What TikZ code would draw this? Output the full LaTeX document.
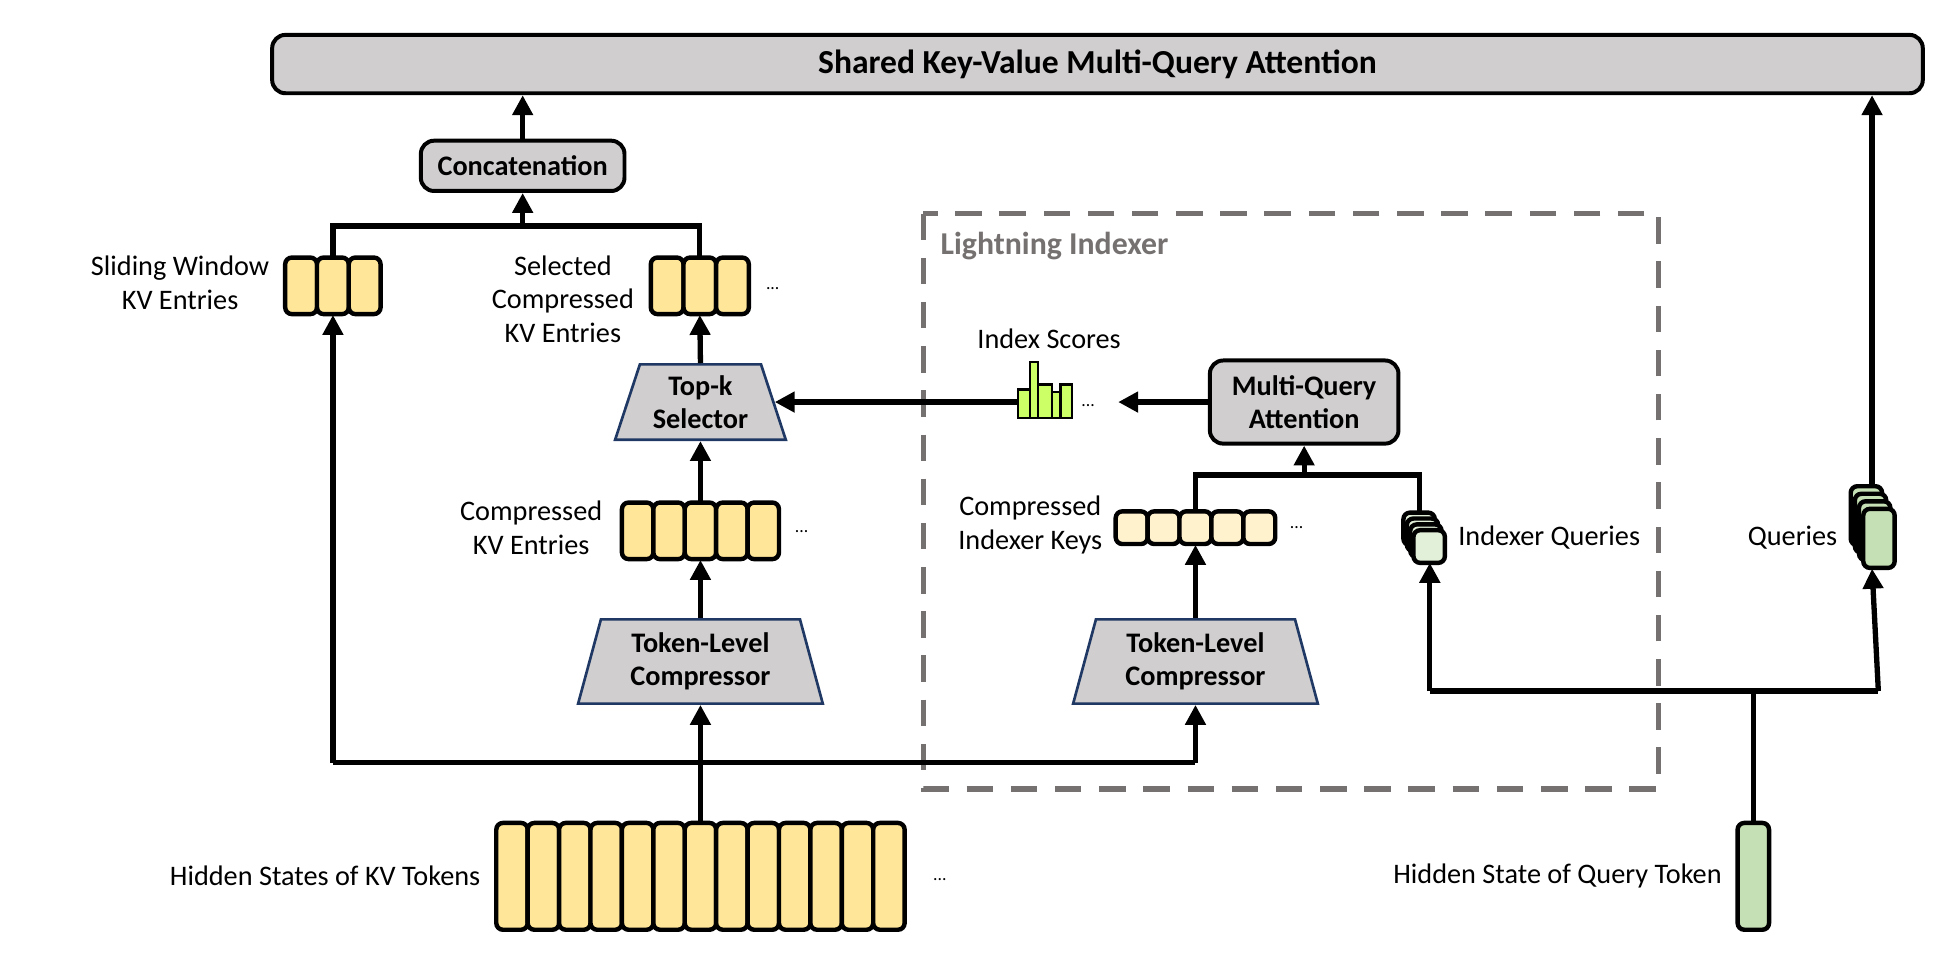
\documentclass[tikz,border=0pt]{standalone}
\usepackage{fontspec}
\setmainfont{Carlito}
\usetikzlibrary{arrows.meta,shapes.geometric}
\definecolor{boxgray}{HTML}{D0CECE}
\definecolor{kvy}{HTML}{FFE699}
\definecolor{kvl}{HTML}{FFF2CC}
\definecolor{qg}{HTML}{C5E0B4}
\definecolor{qgl}{HTML}{E2F0D9}
\definecolor{score}{HTML}{CCFF66}
\definecolor{navy}{HTML}{1F3864}
\definecolor{dgray}{HTML}{767171}
\tikzset{
  lbl/.style={font=\fontsize{6.4pt}{7.6pt}\selectfont, align=center, inner sep=0pt},
  bbox/.style={draw, line width=0.9pt, fill=boxgray, rounded corners=3pt, font=\fontsize{6.4pt}{7.6pt}\selectfont\bfseries, align=center},
  trap/.style={draw=navy, line width=0.6pt, fill=boxgray, trapezium, trapezium stretches=true, font=\fontsize{6.4pt}{7.6pt}\selectfont\bfseries, align=center, inner sep=0pt},
  grp/.style={inner sep=0pt, draw=none},
  cell/.style={draw, line width=1pt, rounded corners=1.5pt},
  conn/.style={line width=1.2pt},
  arr/.style={line width=1.2pt, -{Triangle[length=4.5pt,width=4.5pt]}},
  dots/.style={font=\fontsize{4pt}{4pt}\selectfont, inner sep=0pt}
}
\begin{document}
\begin{tikzpicture}[x=0.01cm,y=-0.01cm]
\useasboundingbox (0,0) rectangle (1560,764);
% title bar
\node[bbox, minimum width=13.13cm, minimum height=0.42cm, font=\fontsize{7.6pt}{9pt}\selectfont\bfseries] (mqa) at (873.5,51) {Shared Key-Value Multi-Query Attention};
\node[bbox, minimum width=1.62cm, minimum height=0.40cm] (concat) at (416,132) {Concatenation};
% lightning indexer dashed box
\draw[dgray, line width=1.3pt, dash pattern=on 6pt off 4pt] (735,170) rectangle (1320,628);
\node[anchor=west, text=dgray, font=\fontsize{7.2pt}{8pt}\selectfont\bfseries, inner sep=0pt] (li) at (748,196) {Lightning Indexer};
% groups
\node[grp, minimum width=0.76cm, minimum height=0.45cm] (sw) at (265,227.5) {};
\foreach \i in {0,1,2} \draw[cell, fill=kvy] (227+\i*25.3,205) rectangle ++(25.3,45);
\node[lbl, anchor=east] (swl) at (215,225) {Sliding Window\\KV Entries};
\node[grp, minimum width=0.78cm, minimum height=0.45cm] (sel) at (557,227.5) {};
\foreach \i in {0,1,2} \draw[cell, fill=kvy] (518+\i*26,205) rectangle ++(26,45);
\node[dots] (seld) at (615,230) {...};
\node[lbl] (sell) at (448,238) {Selected\\Compressed\\KV Entries};
\node[trap, minimum width=1.36cm, minimum height=0.60cm, trapezium angle=70] (topk) at (557.5,320) {Top-k\\Selector};
\node[grp, minimum width=1.25cm, minimum height=0.45cm] (ckv) at (557.5,422.5) {};
\foreach \i in {0,...,4} \draw[cell, fill=kvy] (495+\i*25,400) rectangle ++(25,45);
\node[dots] (ckvd) at (638,423) {...};
\node[lbl, anchor=east] (ckvl) at (480,420) {Compressed\\KV Entries};
\node[trap, minimum width=1.95cm, minimum height=0.67cm, trapezium angle=74.5] (tc1) at (557.5,526.5) {Token-Level\\Compressor};
\node[grp, minimum width=3.25cm, minimum height=0.85cm] (hs) at (557.5,697.5) {};
\foreach \i in {0,...,12} \draw[cell, fill=kvy] (395+\i*25,655) rectangle ++(25,85);
\node[dots] (hsd) at (748,700) {...};
\node[lbl, anchor=east] (hsl) at (383,697) {Hidden States of KV Tokens};
% indexer side
\node[trap, minimum width=1.95cm, minimum height=0.67cm, trapezium angle=74.5] (tc2) at (951.5,526.5) {Token-Level\\Compressor};
\node[grp, minimum width=1.27cm, minimum height=0.26cm] (cik) at (951.5,420) {};
\foreach \i in {0,...,4} \draw[cell, fill=kvl] (888+\i*25.4,407) rectangle ++(25.4,26);
\node[dots] (cikd) at (1032,420) {...};
\node[lbl, anchor=east] (cikl) at (878,418) {Compressed\\Indexer Keys};
\node[bbox, minimum width=1.50cm, minimum height=0.60cm] (mqai) at (1038,320) {Multi-Query\\Attention};
% index scores
\node[grp, minimum width=0.43cm, minimum height=0.45cm] (scores) at (831.5,310.5) {};
\draw[line width=0.5pt, fill=score] (810,310) rectangle (820,333) (820,288) rectangle (826,333) (826,306) rectangle (837,333) (837,312) rectangle (844,333) (844,306) rectangle (853,333);
\node[dots] (scd) at (866,323) {...};
\node[lbl] (scl) at (835,270) {Index Scores};
% indexer queries stack
\node[grp, minimum width=0.33cm, minimum height=0.40cm] (iq) at (1135,428) {};
\foreach \i in {0,1,2} \draw[cell, fill=qgl] (1117+\i*2.7,408+\i*4.7) rectangle ++(25,26);
\draw[cell, fill=qgl] (1125,422) rectangle ++(25,26);
\node[lbl, anchor=west] (iql) at (1160,428) {Indexer Queries};
% queries stack
\node[grp, minimum width=0.35cm, minimum height=0.65cm] (q) at (1490,419.5) {};
\foreach \i in {0,1,2} \draw[cell, fill=qg] (1473+\i*3.3,387+\i*6) rectangle ++(25,47);
\draw[cell, fill=qg] (1483,405) rectangle ++(25,47);
\node[lbl, anchor=east] (ql) at (1463,428) {Queries};
% hidden state of query
\node[grp, minimum width=0.25cm, minimum height=0.85cm] (hq) at (1395.5,697.5) {};
\draw[cell, fill=qg] (1383,655) rectangle ++(25,85);
\node[lbl, anchor=east] (hql) at (1371,697) {Hidden State of Query Token};
% junction coordinates
\coordinate (j1) at (265,180); \coordinate (j2) at (557,180); \coordinate (j3) at (416,180);
\coordinate (b1) at (265,607); \coordinate (b2) at (951.5,607); \coordinate (b3) at (557.5,607);
\coordinate (k1) at (951.5,378); \coordinate (k2) at (1130,378); \coordinate (k3) at (1038,378);
\coordinate (h1) at (1138,550); \coordinate (h2) at (1495,550); \coordinate (h3) at (1395.5,550);
% connectors
\draw[arr] (concat.north) -- (concat.north |- mqa.south);
\draw[conn] (sw.north) -- (j1) -- (j2) -- (sel.north);
\draw[arr] (j3) -- (concat.south);
\draw[arr] (topk.top side) -- (sel.south);
\draw[arr] (ckv.north) -- (topk.bottom side);
\draw[arr] (tc1.top side) -- (ckv.south);
\draw[arr] (hs.north) -- (tc1.bottom side);
\draw[conn] (b1) -- (b2);
\draw[arr] (b1) -- (sw.south);
\draw[arr] (b2) -- (tc2.bottom side);
\draw[arr] (tc2.top side) -- (cik.south);
\draw[conn] (cik.north) -- (k1) -- (k2) -- (1130,410);
\draw[arr] (k3) -- (mqai.south);
\draw[arr] (mqai.west) -- (890,320);
\draw[arr] (scores.west |- 0,320) -- (topk.east |- 0,320);
\draw[conn] (hq.north) -- (h3);
\draw[conn] (h1) -- (h2);
\draw[arr] (h1) -- (1138,448);
\draw[arr] (h2) -- (q.south);
\draw[arr] (q.north) -- (q.north |- mqa.south);
\end{tikzpicture}
\end{document}
